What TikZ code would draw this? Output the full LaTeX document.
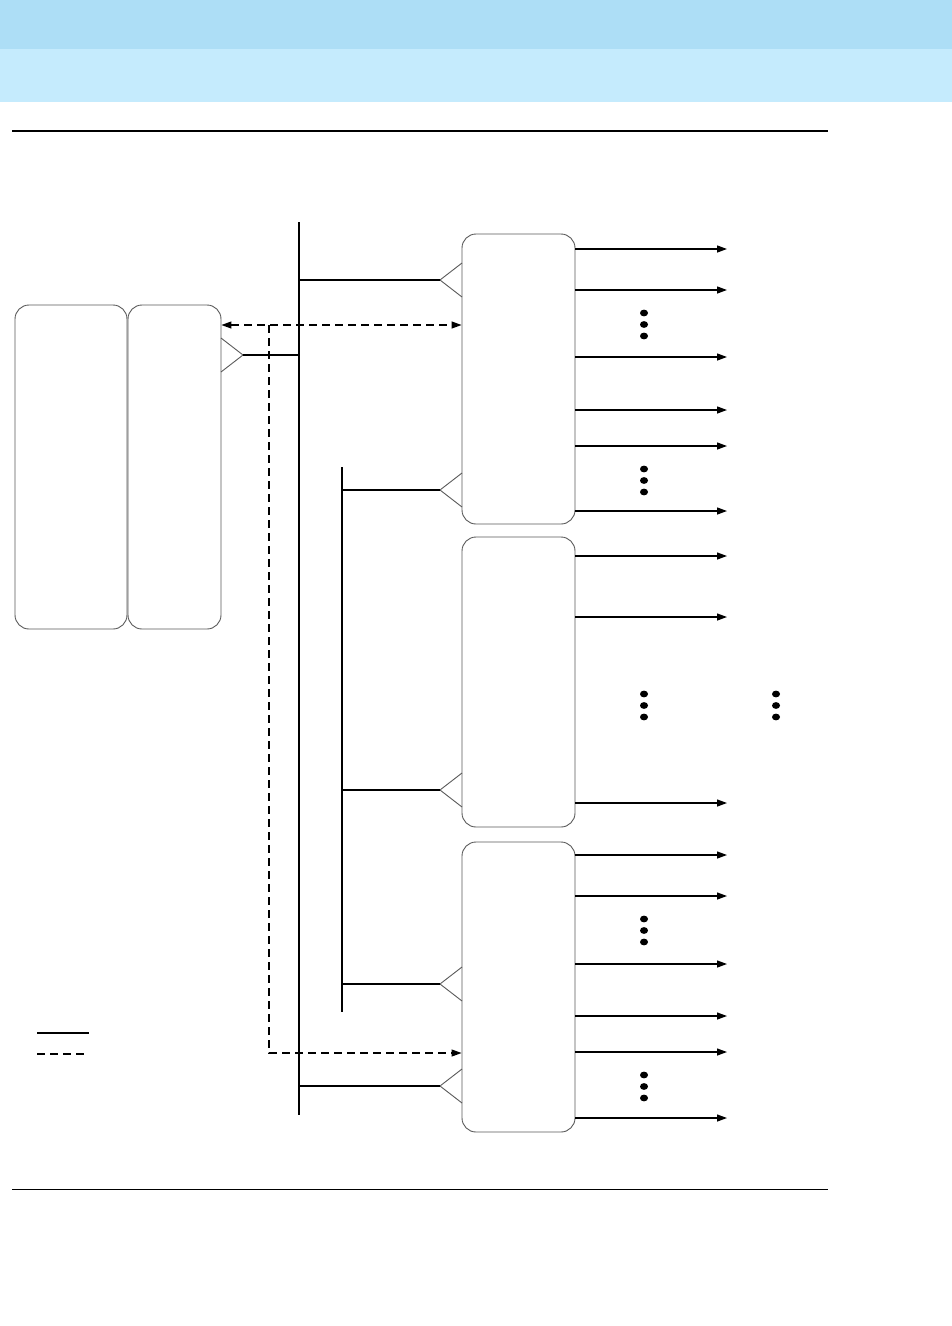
\documentclass[tikz,border=0pt]{standalone}
\usetikzlibrary{arrows.meta,calc}
\definecolor{bandA}{HTML}{ADDEF6}
\definecolor{bandB}{HTML}{C5EBFD}
\definecolor{boxline}{HTML}{5A5A5A}
\begin{document}
\begin{tikzpicture}[x=1pt,y=-1pt,
  box/.style={draw=boxline,line width=0.9pt,rounded corners=14pt,inner sep=0pt,fill=white},
  wire/.style={draw=black,line width=1.3pt},
  tri/.style={draw=boxline,line width=0.9pt},
  outarrow/.style={draw=black,line width=1.3pt,-{Triangle[length=10pt,width=7pt]}},
  dashline/.style={draw=black,line width=1.2pt,dash pattern=on 8pt off 5pt},
  dot/.style={fill=black,draw=none,ellipse},
]
\useasboundingbox (0,0) rectangle (952,1326);
\fill[white] (0,0) rectangle (952,1326);
% header bands
\fill[bandA] (0,0) rectangle (952,49);
\fill[bandB] (0,49) rectangle (952,102);
\draw[line width=2pt] (12,131) -- (828,131);
\draw[line width=1pt] (12,1189) -- (828,1189);

% left boxes
\node[box,minimum width=112pt,minimum height=324pt] (A) at (71,467) {};
\node[box,minimum width=93pt,minimum height=324pt] (B) at (174.5,467) {};

% right boxes
\node[box,minimum width=113pt,minimum height=290pt] (P1) at (518.5,379) {};
\node[box,minimum width=113pt,minimum height=290pt] (P2) at (518.5,682) {};
\node[box,minimum width=113pt,minimum height=290pt] (P3) at (518.5,987) {};

% buses
\coordinate (busT) at (299,222);
\coordinate (busB) at (299,1115);
\draw[wire] (busT) -- (busB);
\coordinate (sbusT) at (342,467);
\coordinate (sbusB) at (342,1012);
\draw[wire] (sbusT) -- (sbusB);

% B connector triangle
\coordinate (bt1) at (221,338);
\coordinate (bapex) at (243,355);
\coordinate (bt2) at (221,372);
\draw[tri] (bt1) -- (bapex) -- (bt2);
\coordinate (bbus) at (299,355);
\draw[wire] (bapex) -- (bbus);

% right box connectors
\foreach \y/\bx/\nm in {280/299/c1, 490/342/c2, 790/342/c3, 984/342/c4, 1086/299/c5}{
  \coordinate (\nm bus) at (\bx,\y);
  \coordinate (\nm apex) at (440,\y);
  \coordinate (\nm up) at (462,\y-17);
  \coordinate (\nm dn) at (462,\y+17);
  \draw[tri] (\nm up) -- (\nm apex) -- (\nm dn);
  \draw[wire] (\nm bus) -- (\nm apex);
}

% dashed links
\coordinate (dA) at (B.east |- 0,325);
\coordinate (dB) at (P1.west |- 0,325);
\draw[dashline,{Triangle[length=10pt,width=7pt]}-{Triangle[length=10pt,width=7pt]}] (dA) -- (dB);
\coordinate (dC) at (269,325);
\coordinate (dD) at (269,1053);
\coordinate (dE) at (P3.west |- 0,1053);
\draw[dashline,-{Triangle[length=10pt,width=7pt]}] (dC) -- (dD) -- (dE);

% output arrows
\foreach \y in {249,290,357,410,446,511}{
  \coordinate (o1s\y) at (P1.east |- 0,\y);
  \coordinate (o1e\y) at (727,\y);
  \draw[outarrow] (o1s\y) -- (o1e\y);
}
\foreach \y in {556,617,803}{
  \coordinate (o2s\y) at (P2.east |- 0,\y);
  \coordinate (o2e\y) at (727,\y);
  \draw[outarrow] (o2s\y) -- (o2e\y);
}
\foreach \y in {855,896,964,1016,1052,1118}{
  \coordinate (o3s\y) at (P3.east |- 0,\y);
  \coordinate (o3e\y) at (727,\y);
  \draw[outarrow] (o3s\y) -- (o3e\y);
}

% ellipsis dots
\foreach \x/\y in {644/313,644/469,644/694,776/694,644/919,644/1075}{
  \foreach \k in {0,11.5,23}{
    \fill (\x,\y+\k) ellipse (4pt and 3.4pt);
  }
}

% legend
\coordinate (lg1) at (37,1033);
\coordinate (lg2) at (89,1033);
\draw[line width=1.2pt] (lg1) -- (lg2);
\coordinate (lg3) at (37,1054);
\coordinate (lg4) at (87,1054);
\draw[dashline] (lg3) -- (lg4);
\end{tikzpicture}
\end{document}
